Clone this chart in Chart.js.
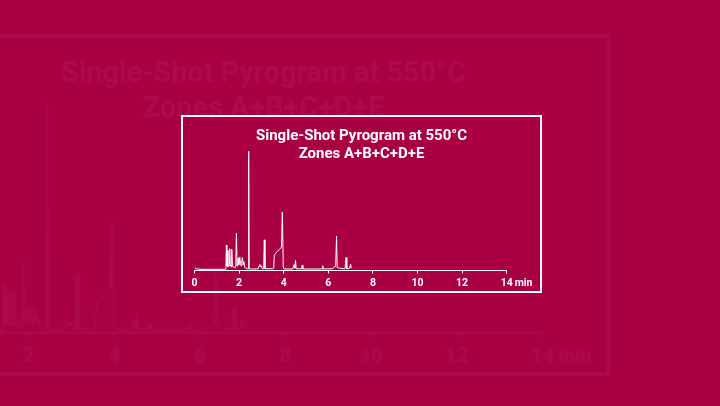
<!DOCTYPE html>
<html>
<head>
<meta charset="utf-8">
<script src="https://cdn.jsdelivr.net/npm/chart.js@4.4.0/dist/chart.umd.min.js"></script>
<style>
  html, body { margin: 0; padding: 0; }
  body { width: 720px; height: 406px; background: #a80042; overflow: hidden; position: relative; font-family: Roboto, sans-serif; }
  .box { position: absolute; left: 181px; top: 115px; width: 361px; height: 178px; border: 2px solid #fff; box-sizing: border-box; }
  .box canvas { position: absolute; left: 0; top: 0; }
  .title { position: absolute; left: 0; right: 0; top: 9px; text-align: center; color: #fff; font-weight: 700; font-size: 15px; line-height: 18px; white-space: nowrap; }
  .ghost { opacity: 0.045; transform-origin: 287px 88px; transform: scale(1.92); }
</style>
</head>
<body>
<div class="box ghost"><canvas id="ghostChart" width="357" height="178"></canvas><div class="title"></div></div>
<div class="box"><canvas id="pyroChart" width="357" height="178"></canvas><div class="title"></div></div>
<script>
const titleLines = ['Single-Shot Pyrogram at 550°C', 'Zones A+B+C+D+E'];
const tickValues = [0, 2, 4, 6, 8, 10, 12, 14];
const axisUnit = 'min';

// retention time (min)
const retention = [
  0.00, 0.08, 0.30, 1.38, 1.41, 1.43, 1.45, 1.47, 1.50, 1.55,
  1.58, 1.60, 1.64, 1.67, 1.70, 1.74, 1.78, 1.85, 1.88, 1.91,
  1.94, 1.96, 1.99, 2.03, 2.06, 2.09, 2.12, 2.15, 2.18, 2.21,
  2.25, 2.30, 2.38, 2.41, 2.43, 2.45, 2.55, 2.85, 2.90, 2.93,
  2.97, 3.00, 3.03, 3.10, 3.13, 3.16, 3.50, 3.55, 3.58, 3.70,
  3.82, 3.90, 3.94, 3.98, 4.02, 4.40, 4.47, 4.50, 4.53, 4.56,
  4.80, 4.83, 4.86, 5.72, 5.75, 5.78, 6.20, 6.27, 6.33, 6.37,
  6.40, 6.50, 6.75, 6.80, 6.83, 6.95, 7.00, 7.03
];
// detector signal (relative, largest peak = 100)
const signal = [
  1.5, 0.4, 0, 0, 2, 20.5, 3, 16, 2, 3,
  17.5, 4, 2, 17, 3, 2, 1.5, 2, 30.5, 3,
  5, 9.5, 4, 10.5, 5, 3, 6, 10, 4, 6.5,
  2, 1, 0.5, 0.5, 100, 0.5, 0.3, 0.3, 3, 4,
  2, 3, 0.5, 0.5, 25, 0.5, 0.5, 1, 12, 15,
  17, 19, 48.5, 2, 0.3, 0.3, 4, 1, 7.5, 0.5,
  0.3, 3.5, 0.3, 0.3, 3, 0.3, 0.5, 2, 2.5, 28,
  1.5, 1, 0.5, 10, 0.5, 0.8, 4.5, 1
];

const tickFont = { family: 'Roboto', weight: 'bold', size: 10.5 };

const unitLabel = {
  id: 'unitLabel',
  afterDraw(chart) {
    const x = chart.scales.x;
    const ctx = chart.ctx;
    ctx.save();
    ctx.fillStyle = '#fff';
    ctx.font = 'bold 10.5px Roboto';
    ctx.textAlign = 'left';
    ctx.textBaseline = 'middle';
    ctx.fillText(axisUnit, x.getPixelForValue(tickValues[tickValues.length - 1]) + 8, chart.chartArea.bottom + 13.3);
    ctx.restore();
  }
};

function drawChart(canvas) {
  const points = retention.map((t, i) => ({ x: t, y: signal[i] }));
  return new Chart(canvas, {
    type: 'line',
    data: {
      datasets: [{
        data: points,
        borderColor: '#fff',
        borderWidth: 1,
        pointRadius: 0,
        tension: 0,
        fill: false
      }]
    },
    options: {
      responsive: false,
      animation: false,
      layout: { padding: { left: 11.5, right: 33.3, top: 28, bottom: 0 } },
      plugins: { legend: { display: false }, tooltip: { enabled: false } },
      scales: {
        x: {
          type: 'linear',
          min: 0,
          max: 14,
          afterBuildTicks: (s) => { s.ticks = tickValues.map(v => ({ value: v })); },
          afterFit: (s) => { s.height = 24.5; },
          grid: { display: true, drawOnChartArea: false, drawTicks: true, tickLength: 3, color: '#fff', lineWidth: 1 },
          border: { display: true, color: '#fff', width: 1 },
          ticks: { color: '#fff', font: tickFont, padding: 4, maxRotation: 0, autoSkip: false }
        },
        y: { display: false, min: -1, max: 105.4 }
      }
    },
    plugins: [unitLabel]
  });
}

document.querySelectorAll('.title').forEach(el => {
  el.innerHTML = titleLines.join('<br>');
});
drawChart(document.getElementById('ghostChart'));
drawChart(document.getElementById('pyroChart'));
</script>
</body>
</html>
